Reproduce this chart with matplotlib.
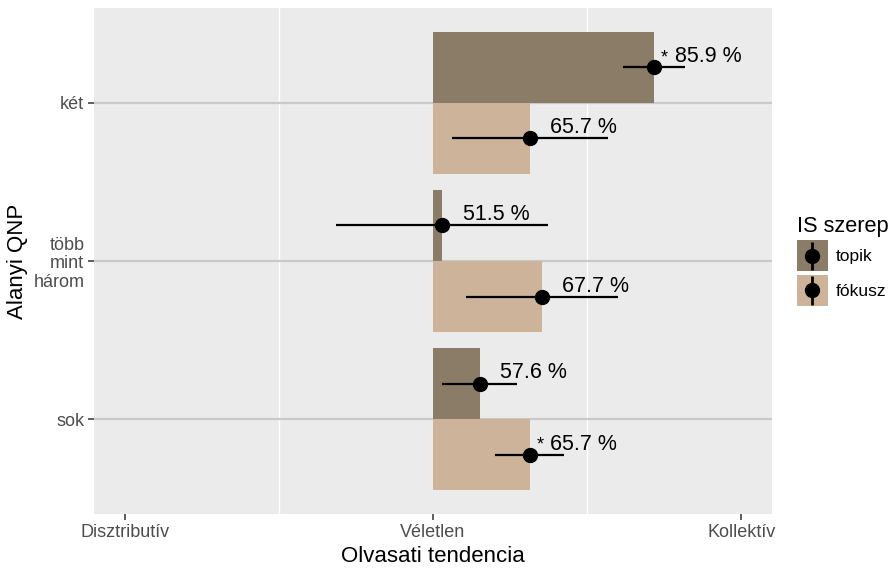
import matplotlib
matplotlib.use("Agg")
import matplotlib.pyplot as plt
from matplotlib.patches import Patch, Rectangle
from matplotlib.lines import Line2D
import numpy as np

plt.rcParams['font.family'] = ['Liberation Sans', 'DejaVu Sans']

# ---- data ----
groups = ["két", "több\nmint\nhárom", "sok"]
series = ["topik", "fókusz"]
topik_vals = [85.9, 51.5, 57.6]
topik_lo = [80.8, 34.3, 51.5]
topik_hi = [90.9, 68.7, 63.7]
topik_sig = ["*", "", ""]
fokusz_vals = [65.7, 67.7, 65.7]
fokusz_lo = [53.1, 55.4, 60.1]
fokusz_hi = [78.4, 80.0, 71.3]
fokusz_sig = ["", "", "*"]
x_ticks = [0, 50, 100]
x_ticklabels = ["Disztributív", "Véletlen", "Kollektív"]
colors = {"topik": "#8A7C66", "fókusz": "#CDB39A"}

W, H = 893, 568
fig = plt.figure(figsize=(W / 100, H / 100), dpi=100)
ax = fig.add_axes([94 / W, (568 - 514) / H, (772 - 94) / W, (514 - 8) / H])
ax.set_facecolor("#EBEBEB")
for s in ax.spines.values():
    s.set_visible(False)

ypos = np.arange(len(groups))[::-1] + 1.0  # két top
bw = 0.45
base = 50

ax.set_xlim(-5, 105)
ax.set_ylim(0.4, 3.6)

# grid
for x in [25, 75]:
    ax.axvline(x, color="white", lw=1.0, zorder=0.5)
for y in ypos:
    ax.axhline(y, color="#C9C9C9", lw=1.6, zorder=0.6)

data = [
    ("topik", topik_vals, topik_lo, topik_hi, topik_sig, +1),
    ("fókusz", fokusz_vals, fokusz_lo, fokusz_hi, fokusz_sig, -1),
]
for name, vals, lo, hi, sig, side in data:
    vals = np.array(vals)
    centers = ypos + side * bw / 2
    ax.barh(centers, vals - base, left=base, height=bw, color=colors[name],
            edgecolor="none", zorder=1)
    ax.hlines(centers, lo, hi, color="black", lw=1.6, zorder=2)
    ax.plot(vals, centers, "o", color="black", ms=10, zorder=3)
    for v, c, st in zip(vals, centers, sig):
        ax.text(v + 3.3, c + 0.032, f"{v:.1f} %", ha="left", va="baseline",
                fontsize=15.5, color="black", zorder=4)
        if st:
            ax.text(v + 2.2, c + 0.032, st, ha="right", va="baseline",
                    fontsize=13, color="black", zorder=4)

ax.set_xticks(x_ticks)
ax.set_xticklabels(x_ticklabels)
ax.set_yticks(ypos)
ax.set_yticklabels(groups, linespacing=1.15)
ax.tick_params(axis="both", length=4, width=1.1, color="#333333",
               labelcolor="#4D4D4D", labelsize=13)
ax.tick_params(axis="x", pad=3)
ax.tick_params(axis="y", pad=3)

ax.set_xlabel("Olvasati tendencia", fontsize=16, labelpad=3.5)
ax.set_ylabel("Alanyi QNP", fontsize=16, labelpad=4)


class KeyHandler:
    def legend_artist(self, legend, orig_handle, fontsize, handlebox):
        x0, y0 = handlebox.xdescent, handlebox.ydescent
        w, h = handlebox.width, handlebox.height
        tr = handlebox.get_transform()
        rect = Rectangle((-x0, -y0), w, h, facecolor=orig_handle.get_facecolor(),
                         edgecolor="none", transform=tr)
        vline = Line2D([-x0 + w / 2] * 2, [-y0 + 1, -y0 + h - 1], color="black",
                       lw=2, solid_capstyle="butt", transform=tr)
        dot = Line2D([-x0 + w / 2], [-y0 + h / 2], marker="o", ms=10,
                     color="black", ls="none", transform=tr)
        handlebox.add_artist(rect)
        handlebox.add_artist(vline)
        handlebox.add_artist(dot)
        return rect


handles = [Patch(facecolor=colors[name], edgecolor="none") for name in series]
leg = fig.legend(handles, series, loc="upper left",
                 bbox_to_anchor=(797 / W, 1 - 216 / H),
                 handler_map={Patch: KeyHandler()},
                 frameon=False, fontsize=12.5, title="IS szerep",
                 title_fontsize=15.7, handlelength=1.78, handleheight=2.37,
                 labelspacing=0.2, handletextpad=0.45, borderaxespad=0,
                 borderpad=0, alignment="left")

fig.savefig("out.png", dpi=100)
